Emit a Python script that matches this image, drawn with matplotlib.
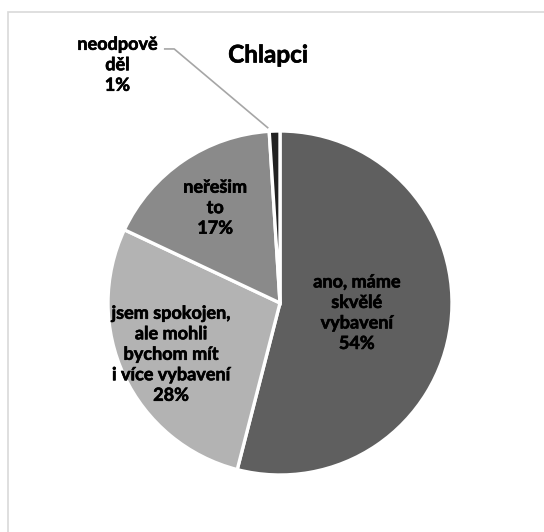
import matplotlib.pyplot as plt
import matplotlib.patheffects as pe
import numpy as np
from matplotlib.patches import Rectangle

plt.rcParams['font.family'] = ['Lato', 'DejaVu Sans']

# Odpovědi chlapců (v procentech)
labels = ["ano, máme\nskvělé\nvybavení", "jsem spokojen,\nale mohli\nbychom mít\ni více vybavení",
          "neřešim\nto", "neodpově\nděl"]
values = [54, 28, 17, 1]
colors = ['#5f5f5f', '#b3b3b3', '#8a8a8a', '#222222']
title = "Chlapci"

fig = plt.figure(figsize=(5.44, 5.32), dpi=100)
fig.patch.set_facecolor('white')

# light gray chart frame
fig.add_artist(Rectangle((8 / 544, -0.05), 1.1, (532 - 12) / 532 + 0.05, transform=fig.transFigure,
                         fill=False, edgecolor='#d9d9d9', linewidth=1.2))

# pie: centre (280, 303) px, radius 172 px
r_px = 172
ax = fig.add_axes([(280 - r_px) / 544, (532 - 303 - r_px) / 532, 2 * r_px / 544, 2 * r_px / 532])
wedges, _ = ax.pie(values, colors=colors, startangle=90, counterclock=False, radius=1,
                   wedgeprops=dict(edgecolor='white', linewidth=2.4))
ax.set_xlim(-1, 1)
ax.set_ylim(-1, 1)
ax.set_aspect('equal')
ax.axis('off')

fs = 13
heavy = [pe.withStroke(linewidth=0.45, foreground='black')]
# labels inside the wedges, placed along each wedge's middle angle
label_r = [0.45, 0.70, 0.67]
for w, lab, v, r in zip(wedges[:3], labels[:3], values[:3], label_r):
    ang = np.radians((w.theta1 + w.theta2) / 2)
    ax.text(r * np.cos(ang), r * np.sin(ang), f"{lab}\n{v}%", ha='center', va='center',
            fontsize=fs, fontweight='bold', color='black', linespacing=1.25, path_effects=heavy)

# small wedge: label outside with a leader line
w = wedges[3]
ang = np.radians((w.theta1 + w.theta2) / 2)
tip = (1.01 * np.cos(ang), 1.01 * np.sin(ang))
ax.plot([-0.67, -0.615, tip[0] - 0.04], [1.477, 1.477, tip[1] + 0.01], color='#a6a6a6',
        linewidth=1.2, clip_on=False)
ax.text(-0.945, 1.385, f"{labels[3]}\n{values[3]}%", ha='center', va='center', fontsize=fs,
        fontweight='bold', color='black', linespacing=1.25, clip_on=False, path_effects=heavy)

fig.text(268 / 544, 1 - 55 / 532, title, ha='center', va='center', fontsize=17.5,
         fontweight='bold', color='black', path_effects=heavy)

fig.savefig('out.png', dpi=100, facecolor='white')
